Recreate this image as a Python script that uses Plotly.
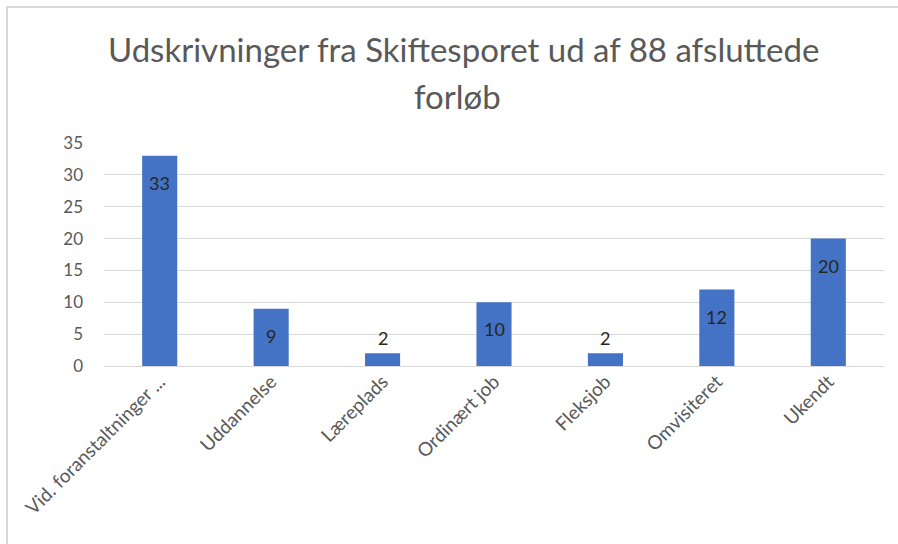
import plotly.graph_objects as go

categories = ["Vid. foranstaltninger ...", "Uddannelse", "Læreplads", "Ordinært job",
              "Fleksjob", "Omvisiteret", "Ukendt"]
values = [33, 9, 2, 10, 2, 12, 20]
title_line1 = "Udskrivninger fra Skiftesporet ud af 88 afsluttede"
title_line2 = "forløb"

FONT = "Lato, 'Open Sans', sans-serif"
W, H = 898, 544
L, R, T, B = 104, 14, 143, 178
pw, ph = W - L - R, H - T - B

def px_x(px):
    return (px - L) / pw

def px_y(py):
    return (H - B - py) / ph

fig = go.Figure(go.Bar(
    x=categories, y=values,
    marker=dict(color="#4472C4", line=dict(width=0)),
    cliponaxis=False,
    width=0.315,
    hoverinfo="x+y",
))

label_anns = []
for c, v in zip(categories, values):
    inside = v >= 5
    label_anns.append(dict(
        x=c, y=v, xref="x", yref="y", text=str(v), showarrow=False,
        xanchor="center", yanchor="top" if inside else "bottom",
        yshift=-14 if inside else 2,
        font=dict(family=FONT, size=18, color="#262626"),
    ))

fig.update_layout(
    width=W, height=H,
    margin=dict(l=L, r=R, t=T, b=B),
    paper_bgcolor="white", plot_bgcolor="white",
    showlegend=False,
    font=dict(family=FONT, color="#595959"),
    xaxis=dict(tickangle=-45, tickfont=dict(size=19, color="#595959"),
               showgrid=False, showline=False, ticks="", ticklen=0),
    yaxis=dict(range=[0, 35], dtick=5, tickfont=dict(size=17, color="#595959"),
               showgrid=True, gridcolor="#d9d9d9", gridwidth=1,
               zeroline=True, zerolinecolor="#d9d9d9", zerolinewidth=1,
               showline=False, ticks="", ticklabelstandoff=20),
    annotations=[
        dict(text=title_line1, xref="paper", yref="paper", x=px_x(463), y=px_y(49),
             showarrow=False, xanchor="center", yanchor="middle",
             font=dict(family=FONT, size=33, color="#595959")),
        dict(text=title_line2, xref="paper", yref="paper", x=px_x(457), y=px_y(96),
             showarrow=False, xanchor="center", yanchor="middle",
             font=dict(family=FONT, size=33, color="#595959")),
    ] + label_anns,
    shapes=[
        dict(type="line", xref="paper", yref="paper",
             x0=px_x(6), x1=px_x(910), y0=px_y(7), y1=px_y(7),
             line=dict(color="#d9d9d9", width=2), layer="above"),
        dict(type="line", xref="paper", yref="paper",
             x0=px_x(7), x1=px_x(7), y0=px_y(556), y1=px_y(6),
             line=dict(color="#d9d9d9", width=2), layer="above"),
    ],
)

fig.write_html("out.html", config={"displayModeBar": False},
               post_script="document.body.style.margin='0';")
